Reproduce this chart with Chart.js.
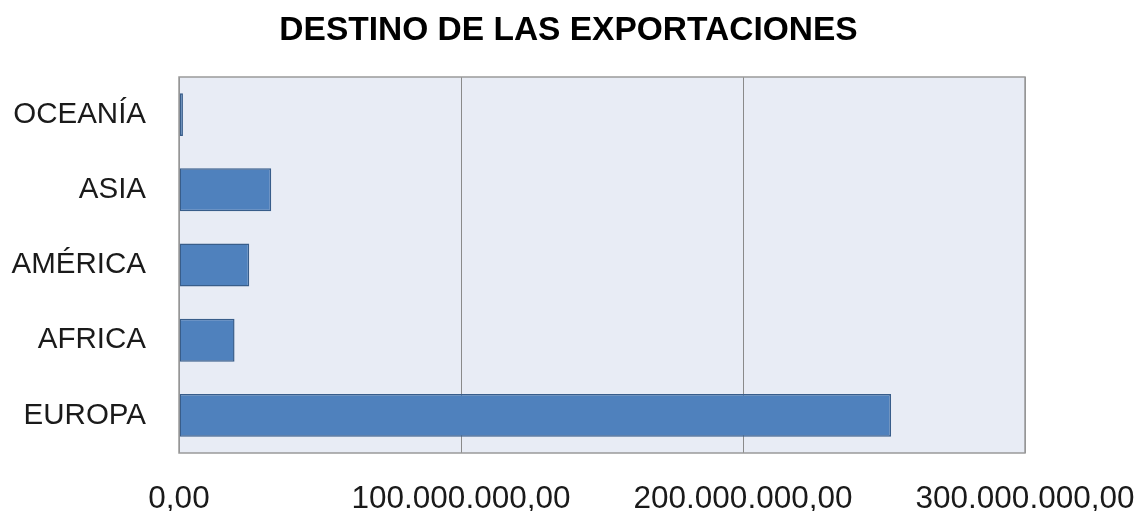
<!DOCTYPE html>
<html>
<head>
<meta charset="UTF-8">
<title>Destino de las exportaciones</title>
<script src="https://cdn.jsdelivr.net/npm/chart.js"></script>
<style>
  html, body { margin: 0; padding: 0; background: #fff; }
  #wrap { width: 1137px; height: 511px; }
</style>
</head>
<body>
<div id="wrap"><canvas id="exportChart" width="1137" height="511"></canvas></div>
<script>
// Datos
const regiones = ['OCEANÍA', 'ASIA', 'AMÉRICA', 'AFRICA', 'EUROPA'];
const exportaciones = [1400000, 32700000, 24900000, 19700000, 252500000];
const ticksX = [0, 100000000, 200000000, 300000000];
const titulo = 'DESTINO DE LAS EXPORTACIONES';

function formatoES(v) {
    // 100000000 -> 100.000.000,00
    const entero = Math.round(v).toString().replace(/\B(?=(\d{3})+(?!\d))/g, '.');
    return entero + ',00';
}

// fondo del área de trazado, borde y título centrado en el lienzo
const plotBg = {
    id: 'plotBg',
    beforeDraw(chart) {
        const { ctx, chartArea: a } = chart;
        ctx.save();
        ctx.fillStyle = '#E8ECF5';
        ctx.fillRect(a.left, a.top, a.width, a.height);
        ctx.restore();
    },
    afterDraw(chart) {
        const { ctx, chartArea: a } = chart;
        ctx.save();
        ctx.strokeStyle = '#9A9A9A';
        ctx.lineWidth = 1.5;
        ctx.strokeRect(a.left, a.top, a.width, a.height);
        ctx.fillStyle = '#000';
        ctx.font = 'bold 33.5px "Liberation Sans"';
        ctx.textAlign = 'center';
        ctx.textBaseline = 'middle';
        ctx.fillText(titulo, chart.width / 2, 31);
        ctx.restore();
    }
};

new Chart(document.getElementById('exportChart'), {
    type: 'bar',
    data: {
        labels: regiones,
        datasets: [{
            data: exportaciones,
            backgroundColor: '#4F81BD',
            borderColor: '#385D8A',
            borderWidth: 1.5,
            borderSkipped: false,
            categoryPercentage: 1,
            barPercentage: 0.57
        }]
    },
    options: {
        indexAxis: 'y',
        responsive: false,
        animation: false,
        layout: { padding: { left: 0, right: 112, top: 77, bottom: 0 } },
        plugins: {
            legend: { display: false },
            tooltip: { enabled: false },
            title: { display: false }
        },
        scales: {
            x: {
                min: 0,
                max: 300000000,
                afterBuildTicks(axis) { axis.ticks = ticksX.map(v => ({ value: v })); },
                afterFit(axis) {
                    axis.height = 58;
                    axis.paddingLeft = 0;
                    axis.paddingRight = 0;
                },
                grid: { color: '#8A8A8A', lineWidth: 1, drawTicks: false },
                border: { display: false },
                ticks: {
                    padding: 27,
                    color: '#1a1a1a',
                    maxRotation: 0,
                    font: { family: 'Liberation Sans', size: 31.5 },
                    callback: v => formatoES(v)
                }
            },
            y: {
                afterFit(axis) { axis.width = 179; },
                grid: { display: false },
                border: { display: false },
                ticks: {
                    padding: 25,
                    color: '#1a1a1a',
                    font: { family: 'Liberation Sans', size: 29.5 }
                }
            }
        }
    },
    plugins: [plotBg]
});
</script>
</body>
</html>
